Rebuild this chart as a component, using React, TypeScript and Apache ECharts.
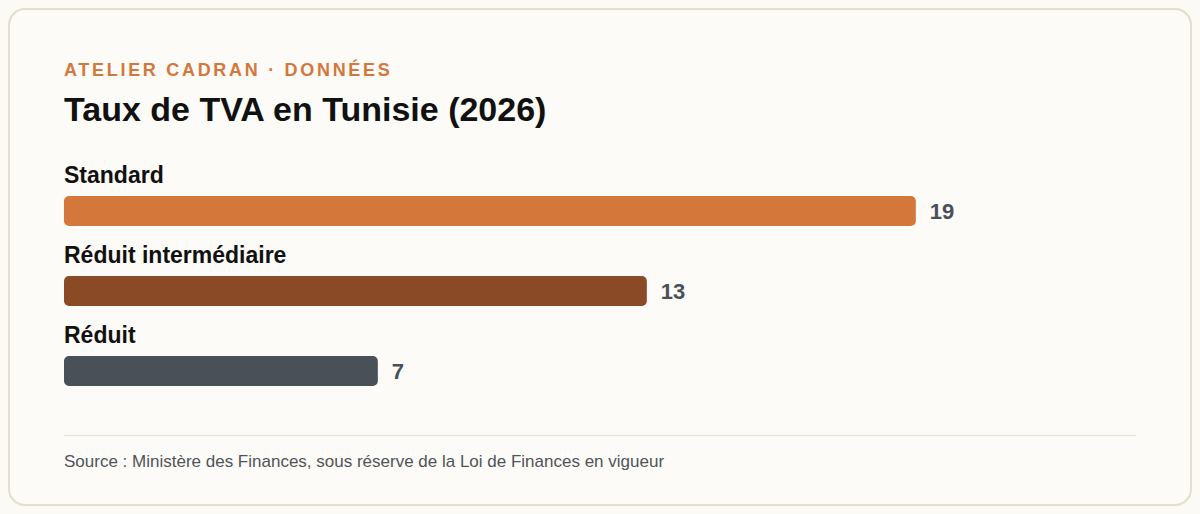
import { useEffect, useRef } from "react";
import * as echarts from "echarts";

const categories = ["Standard", "Réduit intermédiaire", "Réduit"];
const rates = [19, 13, 7];
const barColors = ["#d4773b", "#8b4a26", "#4a5057"];

const kicker = "ATELIER CADRAN · DONNÉES";
const titleText = "Taux de TVA en Tunisie (2026)";
const sourceText =
  "Source : Ministère des Finances, sous réserve de la Loi de Finances en vigueur";

const FONT = "'Liberation Sans', Arial, sans-serif";

const App = () => {
  const chartRef = useRef(null);

  useEffect(() => {
    document.body.style.background = "#fbfaf5";
    const chart = echarts.init(chartRef.current, null, { renderer: "svg" });

    const option: any = {
      animation: false,
      backgroundColor: "transparent",
      textStyle: { fontFamily: FONT },
      graphic: [
        {
          type: "rect",
          z: -10,
          shape: { x: 1, y: 1, width: 1182, height: 496, r: 16 },
          style: { fill: "#fcfbf7", stroke: "#e3dfc9", lineWidth: 2 },
          silent: true,
        },
        {
          type: "text",
          left: 56,
          top: 53,
          style: {
            text: kicker,
            font: `bold 18px ${FONT}`,
            fill: "#d4773b",
          },
        },
        {
          type: "text",
          left: 56,
          top: 84,
          style: {
            text: titleText,
            font: `bold 34px ${FONT}`,
            fill: "#111111",
          },
        },
        {
          type: "line",
          shape: { x1: 56, y1: 427.5, x2: 1128, y2: 427.5 },
          style: { stroke: "#ebe7d7", lineWidth: 1.5 },
        },
        {
          type: "text",
          left: 56,
          top: 445,
          style: {
            text: sourceText,
            font: `17px ${FONT}`,
            fill: "#50545a",
          },
        },
      ],
      grid: {
        left: 56,
        top: 163,
        width: 1076,
        height: 240,
        containLabel: false,
      },
      xAxis: {
        type: "value",
        min: 0,
        max: 24,
        show: false,
      },
      yAxis: {
        type: "category",
        inverse: true,
        z: 5,
        data: categories,
        axisLine: { show: false },
        axisTick: { show: false },
        splitLine: { show: false },
        axisLabel: {
          show: true,
          interval: 0,
          inside: true,
          margin: 0,
          align: "left",
          verticalAlign: "bottom",
          lineHeight: 73,
          fontSize: 23,
          fontWeight: "bold",
          color: "#111111",
          fontFamily: FONT,
        },
      },
      series: [
        {
          type: "bar",
          barWidth: 30,
          data: rates.map((v, i) => ({
            value: v,
            itemStyle: { color: barColors[i], borderRadius: 5 },
          })),
          label: {
            show: true,
            position: "right",
            distance: 14,
            fontSize: 22,
            fontWeight: "bold",
            color: "#4a5057",
            fontFamily: FONT,
          },
        },
      ],
    };

    chart.setOption(option);

    // petit espacement des lettres pour le surtitre
    const el = chartRef.current as any;
    el.querySelectorAll("text").forEach((t) => {
      if (t.textContent === kicker) t.setAttribute("letter-spacing", "2.7px");
    });

    return () => {
      chart.dispose();
    };
  }, []);

  return <div ref={chartRef} style={{ width: "1184px", height: "498px" }} />;
};

export default App;
